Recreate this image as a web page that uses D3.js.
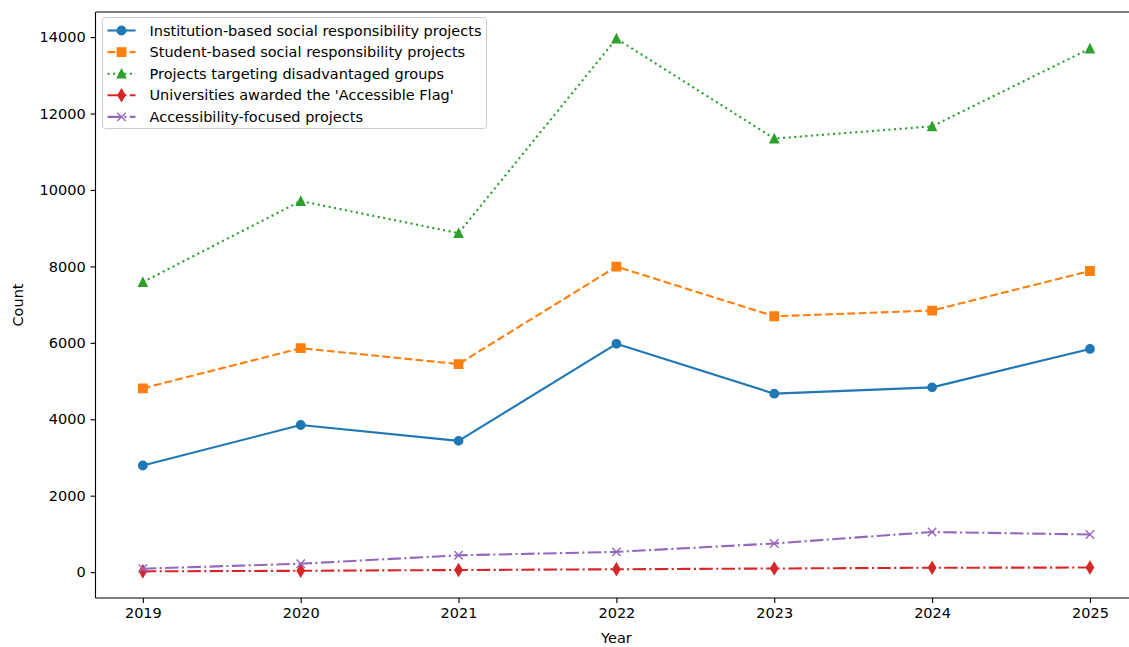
<!DOCTYPE html>
<html>
<head>
<meta charset="utf-8">
<script src="https://cdn.jsdelivr.net/npm/d3@7"></script>
<style>
  html, body { margin: 0; padding: 0; background: #fff; }
  svg { display: block; font-family: "DejaVu Sans", sans-serif; }
</style>
</head>
<body>
<svg id="chart" width="1129" height="647"></svg>
<script>
// Yearly counts, 2019–2025
const years = [2019, 2020, 2021, 2022, 2023, 2024, 2025];
const institutionProjects = [2790, 3850, 3435, 5975, 4670, 4835, 5840];
const studentProjects = [4810, 5860, 5445, 7995, 6695, 6845, 7880];
const disadvantagedProjects = [7590, 9710, 8870, 13960, 11345, 11665, 13700];
const accessibleFlagUniversities = [20, 35, 55, 75, 95, 115, 120];
const accessibilityProjects = [90, 220, 440, 530, 750, 1050, 985];
const yTicks = [0, 2000, 4000, 6000, 8000, 10000, 12000, 14000];

const seriesNames = [
  "Institution-based social responsibility projects",
  "Student-based social responsibility projects",
  "Projects targeting disadvantaged groups",
  "Universities awarded the 'Accessible Flag'",
  "Accessibility-focused projects"
];
const seriesValues = [institutionProjects, studentProjects, disadvantagedProjects,
                      accessibleFlagUniversities, accessibilityProjects];
const colors = ["#1f77b4", "#ff7f0e", "#2ca02c", "#d62728", "#9467bd"];
const markers = ["circle", "square", "triangle", "diamond", "x"];

const pt = 1.4; // px per point
const dashes = [
  null,
  [3.7 * 1.5 * pt, 1.6 * 1.5 * pt],
  [1 * 1.5 * pt, 1.65 * 1.5 * pt],
  [6.4 * 1.5 * pt, 1.6 * 1.5 * pt, 1 * 1.5 * pt, 1.6 * 1.5 * pt],
  [6.4 * 1.5 * pt, 1.6 * 1.5 * pt, 1 * 1.5 * pt, 1.6 * 1.5 * pt]
];

const series = seriesNames.map((name, i) => ({
  name, color: colors[i], marker: markers[i], dash: dashes[i],
  points: years.map((y, j) => ({ year: y, value: seriesValues[i][j] }))
}));

const svg = d3.select("#chart");
const plotLeft = 95.5, plotRight = 1137.3, plotTop = 12, plotBottom = 598;

const allVals = seriesValues.flat();
const vMin = d3.min(allVals), vMax = d3.max(allVals);
const vPad = (vMax - vMin) * 0.05;
const xPad = (d3.max(years) - d3.min(years)) * 0.05;

const x = d3.scaleLinear()
  .domain([d3.min(years) - xPad, d3.max(years) + xPad])
  .range([plotLeft, plotRight]);
const y = d3.scaleLinear()
  .domain([vMin - vPad, vMax + vPad])
  .range([plotBottom, plotTop]);

const fontSize = 14.5;
const tickLen = 3.5 * pt;

// Axes
const xAxis = d3.axisBottom(x).tickValues(years).tickFormat(d3.format("d"))
  .tickSize(tickLen).tickPadding(3.5 * pt);
const yAxis = d3.axisLeft(y).tickValues(yTicks).tickFormat(d3.format("d"))
  .tickSize(tickLen).tickPadding(3.5 * pt);

const gx = svg.append("g").attr("transform", `translate(0,${plotBottom})`).call(xAxis);
const gy = svg.append("g").attr("transform", `translate(${plotLeft},0)`).call(yAxis);
[gx, gy].forEach(g => {
  g.select(".domain").remove();
  g.selectAll(".tick line").attr("stroke", "#000").attr("stroke-width", 0.8 * pt);
  g.selectAll(".tick text").attr("fill", "#000").style("font-size", fontSize + "px")
    .style("font-family", "DejaVu Sans, sans-serif");
});

// Clip region for the plotted series
svg.append("defs").append("clipPath").attr("id", "plotclip")
  .append("rect").attr("x", plotLeft).attr("y", plotTop)
  .attr("width", plotRight - plotLeft).attr("height", plotBottom - plotTop);

const plot = svg.append("g").attr("clip-path", "url(#plotclip)");

const line = d3.line().x(d => x(d.year)).y(d => y(d.value));

function markerPath(type, s) {
  const h = s / 2;
  switch (type) {
    case "square": return `M${-h},${-h}H${h}V${h}H${-h}Z`;
    case "triangle": return `M0,${-h}L${h},${h}L${-h},${h}Z`;
    case "diamond": {
      const w = h * 0.6;
      return `M0,${-h}L${w},0L0,${h}L${-w},0Z`;
    }
    case "x": return `M${-h},${-h}L${h},${h}M${-h},${h}L${h},${-h}`;
    default: return d3.symbol(d3.symbolCircle, Math.PI * h * h)();
  }
}

const msize = 6 * pt;
function markerSize(type) {
  if (type === "diamond") return msize * 1.414;
  return msize;
}

series.forEach(s => {
  plot.append("path")
    .datum(s.points)
    .attr("d", line)
    .attr("fill", "none")
    .attr("stroke", s.color)
    .attr("stroke-width", 1.5 * pt)
    .attr("stroke-linecap", "butt")
    .attr("stroke-linejoin", "round")
    .attr("stroke-dasharray", s.dash ? s.dash.join(",") : null);
  plot.selectAll(null)
    .data(s.points)
    .join("path")
    .attr("transform", d => `translate(${x(d.year)},${y(d.value)})`)
    .attr("d", markerPath(s.marker, markerSize(s.marker)))
    .attr("fill", s.marker === "x" ? "none" : s.color)
    .attr("stroke", s.color)
    .attr("stroke-width", 1 * pt)
    .attr("stroke-linejoin", "miter");
});

// Spines
const spine = svg.append("g").attr("stroke", "#000").attr("stroke-width", 0.8 * pt).attr("fill", "none");
spine.append("line").attr("x1", plotLeft).attr("x2", plotLeft).attr("y1", plotTop).attr("y2", plotBottom);
spine.append("line").attr("x1", plotLeft).attr("x2", plotRight).attr("y1", plotBottom).attr("y2", plotBottom);
spine.append("line").attr("x1", plotLeft).attr("x2", plotRight).attr("y1", plotTop).attr("y2", plotTop);
spine.append("line").attr("x1", plotRight).attr("x2", plotRight).attr("y1", plotTop).attr("y2", plotBottom);

// Axis titles
svg.append("text")
  .attr("x", (plotLeft + plotRight) / 2).attr("y", 643)
  .attr("text-anchor", "middle")
  .style("font-size", fontSize + "px")
  .text("Year");
svg.append("text")
  .attr("transform", `translate(23,${(plotTop + plotBottom) / 2}) rotate(-90)`)
  .attr("text-anchor", "middle")
  .style("font-size", fontSize + "px")
  .text("Count");

// Legend
const lg = svg.append("g").attr("transform", "translate(102.5,17.5)");
lg.append("rect")
  .attr("width", 384).attr("height", 111)
  .attr("rx", 3).attr("ry", 3)
  .attr("fill", "#fff").attr("fill-opacity", 0.8)
  .attr("stroke", "#cccccc").attr("stroke-width", 1);
series.forEach((s, i) => {
  const cy = 13 + i * 21.6;
  const row = lg.append("g").attr("transform", `translate(0,${cy})`);
  row.append("line")
    .attr("x1", 5).attr("x2", 33).attr("y1", 0).attr("y2", 0)
    .attr("stroke", s.color).attr("stroke-width", 1.5 * pt)
    .attr("stroke-dasharray", s.dash ? s.dash.join(",") : null);
  row.append("path")
    .attr("transform", "translate(19,0)")
    .attr("d", markerPath(s.marker, markerSize(s.marker)))
    .attr("fill", s.marker === "x" ? "none" : s.color)
    .attr("stroke", s.color).attr("stroke-width", 1 * pt);
  row.append("text")
    .attr("x", 47).attr("y", 0).attr("dy", "0.35em")
    .style("font-size", fontSize + "px")
    .text(s.name);
});
</script>
</body>
</html>
